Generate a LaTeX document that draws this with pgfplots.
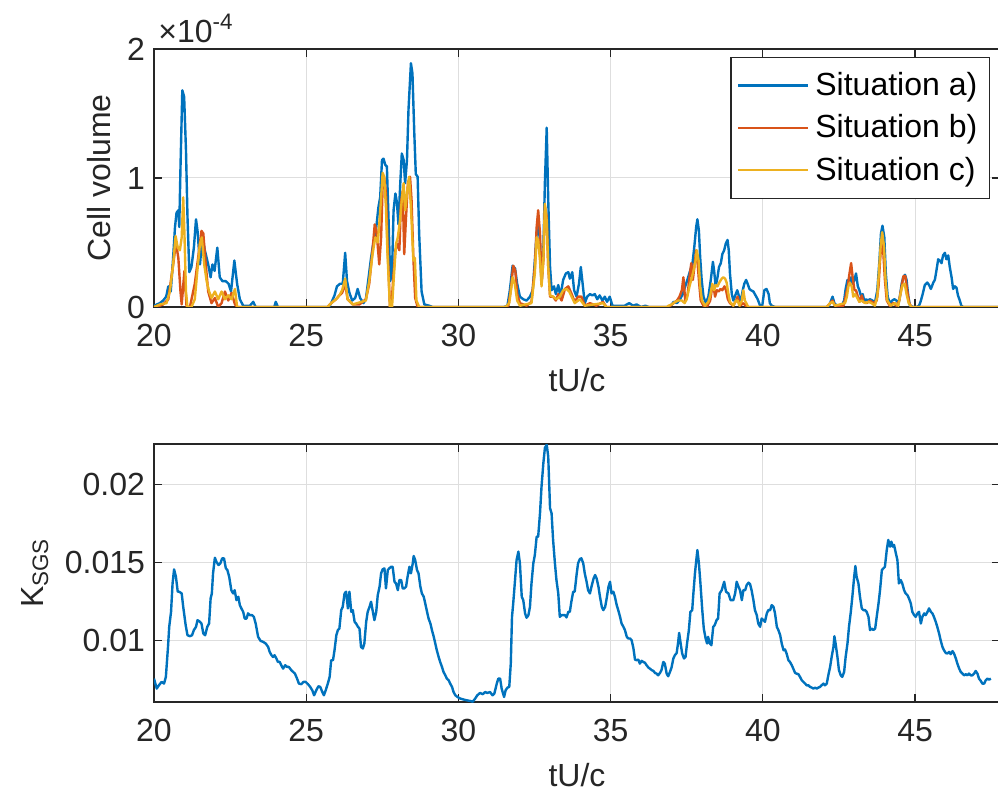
\documentclass[border=0pt]{standalone}
\usepackage{fontspec}
\setmainfont{Liberation Sans}
\usepackage{pgfplots}
\pgfplotsset{compat=1.18}

\definecolor{mblue}{rgb}{0,0.447,0.741}
\definecolor{morange}{rgb}{0.850,0.325,0.098}
\definecolor{myellow}{rgb}{0.929,0.694,0.125}
\definecolor{axgray}{gray}{0.15}

\newcommand{\chartfont}{\fontsize{16}{19}\selectfont}

\pgfplotsset{
  mstyle/.style={
    scale only axis,
    width=423pt, height=129pt,
    xmin=20, xmax=47.79,
    xtick={20,25,...,45},
    tick align=inside,
    major tick length=4pt,
    axis line style={axgray, line width=0.6pt},
    every tick/.style={axgray, line width=0.6pt},
    grid=major,
    grid style={black!13, line width=0.5pt},
    tick label style={font=\chartfont, text=axgray},
    xticklabel style={inner ysep=0pt, yshift=-8.3pt},
    yticklabel style={inner ysep=0pt, xshift=-1pt},
    label style={font=\chartfont, text=axgray},
    /pgf/number format/assume math mode=true,
    xlabel={tU/c},
    xlabel style={at={(axis description cs:0.5,-0.283)}, anchor=center},
    clip=true,
  },
  cv/.style={line width=1.2pt, line join=round},
}

\begin{document}
\begin{tikzpicture}
\path[use as bounding box] (-77pt,24.5pt) rectangle (422pt,-372pt);

% ---------- cell volume (values in units of 1e-4) ----------
\begin{axis}[mstyle, name=top, at={(0pt,0pt)}, anchor=north west,
  ymin=0, ymax=2, ytick={0,1,2}, yticklabels={0,1,2},
  ylabel={Cell volume},
  ylabel style={at={(axis description cs:-0.0646,0.5)}, anchor=center},
  legend cell align=left,
  legend style={at={(0.988,0.969)}, anchor=north east, draw=axgray,
    line width=0.6pt, fill=white, font=\chartfont, text=black,
    inner xsep=3pt, inner ysep=3.5pt, nodes={inner xsep=3pt, inner ysep=4pt},
    /tikz/every even column/.append style={column sep=3pt}},
  legend image code/.code={\draw[#1] (0pt,0pt) -- (35pt,0pt);},
]
\addplot[cv, mblue] coordinates {
(20.00,0.01) (20.10,0.02) (20.19,0.03) (20.30,0.05) (20.40,0.08) (20.47,0.16) (20.55,0.12) (20.62,0.35) (20.69,0.62) (20.74,0.73) (20.80,0.75) (20.83,0.62) (20.87,1.08) (20.93,1.68) (20.99,1.63) (21.05,1.22) (21.10,0.70) (21.16,0.27) (21.23,0.31) (21.31,0.46) (21.38,0.68) (21.43,0.59) (21.51,0.33) (21.59,0.54) (21.67,0.44) (21.78,0.33) (21.86,0.23) (21.92,0.33) (21.99,0.28) (22.08,0.46) (22.16,0.23) (22.25,0.20) (22.36,0.20) (22.45,0.18) (22.53,0.12) (22.64,0.36) (22.73,0.18) (22.82,0.06) (22.93,0.01) (23.15,0.01) (23.26,0.04) (23.34,0.00) (23.95,0.00) (24.00,0.04) (24.07,0.00)
(25.75,0.00) (25.82,0.03) (25.93,0.09) (26.01,0.16) (26.11,0.18) (26.20,0.18) (26.28,0.42) (26.34,0.20) (26.42,0.11) (26.51,0.05) (26.61,0.07) (26.69,0.14) (26.77,0.07) (26.88,0.03) (26.96,0.06) (27.05,0.23) (27.13,0.38) (27.20,0.49) (27.29,0.59) (27.37,0.77) (27.43,0.85) (27.49,1.14) (27.54,1.15) (27.60,1.10) (27.65,1.09) (27.71,0.64) (27.76,0.20) (27.82,0.28) (27.87,0.75) (27.93,0.88) (27.98,0.81) (28.03,0.64) (28.09,0.96) (28.14,1.19) (28.20,1.14) (28.25,0.96) (28.31,1.14) (28.36,1.53) (28.44,1.89) (28.49,1.81) (28.55,1.35) (28.60,1.03) (28.66,1.01) (28.71,0.57) (28.79,0.12) (28.88,0.02) (29.04,0.01) (29.15,0.00)
(31.50,0.00) (31.61,0.01) (31.69,0.13) (31.78,0.32) (31.86,0.30) (31.93,0.18) (32.02,0.08) (32.13,0.06) (32.24,0.05) (32.35,0.08) (32.44,0.13) (32.51,0.36) (32.57,0.57) (32.62,0.70) (32.68,0.49) (32.73,0.18) (32.79,0.44) (32.84,0.96) (32.90,1.39) (32.95,0.83) (33.01,0.31) (33.06,0.13) (33.14,0.16) (33.20,0.10) (33.28,0.17) (33.35,0.08) (33.44,0.21) (33.53,0.26) (33.61,0.27) (33.66,0.22) (33.74,0.27) (33.80,0.13) (33.88,0.08) (33.96,0.18) (34.02,0.31) (34.08,0.18) (34.15,0.03) (34.23,0.08) (34.32,0.10) (34.40,0.09) (34.48,0.10) (34.56,0.06) (34.64,0.09) (34.73,0.05) (34.81,0.08) (34.88,0.04) (34.97,0.08) (35.06,0.01) (35.19,0.01) (35.46,0.01) (35.61,0.03) (35.74,0.01) (35.85,0.02) (36.00,0.00)
(36.14,0.01) (36.25,0.00) (36.90,0.00) (37.01,0.02) (37.07,0.04) (37.18,0.03) (37.28,0.06) (37.37,0.10) (37.45,0.16) (37.52,0.21) (37.61,0.28) (37.69,0.34) (37.75,0.47) (37.81,0.62) (37.85,0.68) (37.90,0.59) (37.94,0.39) (37.99,0.21) (38.05,0.08) (38.13,0.03) (38.21,0.08) (38.29,0.21) (38.36,0.35) (38.40,0.28) (38.45,0.16) (38.51,0.23) (38.56,0.31) (38.62,0.34) (38.67,0.41) (38.73,0.44) (38.78,0.49) (38.84,0.52) (38.88,0.44) (38.92,0.26) (38.98,0.10) (39.03,0.05) (39.11,0.10) (39.16,0.13) (39.22,0.08) (39.28,0.05) (39.34,0.13) (39.39,0.18) (39.45,0.21) (39.50,0.18) (39.56,0.14) (39.61,0.13) (39.69,0.12) (39.76,0.09) (39.83,0.06) (39.91,0.01) (39.98,0.01) (40.05,0.13) (40.12,0.14) (40.19,0.10) (40.23,0.03) (40.29,0.01) (40.40,0.00)
(42.15,0.00) (42.21,0.03) (42.29,0.08) (42.35,0.03) (42.43,0.01) (42.59,0.01) (42.67,0.05) (42.72,0.14) (42.78,0.21) (42.84,0.18) (42.90,0.23) (42.95,0.18) (43.01,0.21) (43.06,0.26) (43.12,0.16) (43.17,0.13) (43.23,0.08) (43.28,0.10) (43.33,0.05) (43.39,0.06) (43.44,0.05) (43.52,0.06) (43.60,0.05) (43.68,0.03) (43.76,0.13) (43.83,0.36) (43.88,0.57) (43.93,0.63) (43.99,0.54) (44.04,0.26) (44.10,0.08) (44.17,0.03) (44.25,0.05) (44.32,0.06) (44.39,0.05) (44.46,0.03) (44.50,0.08) (44.56,0.18) (44.61,0.23) (44.67,0.25) (44.72,0.21) (44.78,0.08) (44.83,0.01) (44.94,0.00) (45.05,0.00) (45.13,0.01) (45.18,0.04) (45.25,0.10) (45.32,0.17) (45.40,0.19) (45.46,0.17) (45.52,0.14) (45.60,0.19) (45.65,0.21) (45.70,0.28) (45.76,0.37) (45.81,0.36) (45.87,0.34) (45.92,0.40) (45.98,0.42) (46.03,0.37) (46.09,0.40) (46.14,0.31) (46.20,0.23) (46.25,0.14) (46.31,0.16) (46.36,0.15) (46.41,0.09) (46.47,0.05) (46.52,0.01) (46.58,0.00) (47.79,0.00)
};
\addlegendentry{Situation a)}
\addplot[cv, morange] coordinates {
(20.00,0.00) (20.19,0.01) (20.30,0.02) (20.47,0.06) (20.63,0.33) (20.72,0.50) (20.80,0.38) (20.87,0.12) (20.91,0.02) (21.00,0.28) (21.07,0.00) (21.18,0.00) (21.34,0.18) (21.45,0.38) (21.56,0.59) (21.62,0.57) (21.70,0.33) (21.78,0.12) (21.89,0.03) (22.00,0.07) (22.11,0.00) (22.22,0.03) (22.33,0.12) (22.44,0.05) (22.55,0.11) (22.66,0.02) (22.73,0.00)
(25.70,0.00) (25.82,0.03) (25.98,0.06) (26.09,0.09) (26.18,0.11) (26.28,0.18) (26.36,0.06) (26.53,0.02) (26.75,0.02) (26.96,0.06) (27.07,0.18) (27.18,0.44) (27.25,0.64) (27.31,0.59) (27.40,0.33) (27.46,0.54) (27.51,0.93) (27.56,1.01) (27.62,0.88) (27.67,0.49) (27.75,0.00) (27.80,0.00) (27.86,0.23) (27.93,0.44) (27.99,0.49) (28.06,0.44) (28.11,0.80) (28.17,0.90) (28.22,0.41) (28.28,0.70) (28.34,0.96) (28.41,1.01) (28.46,0.83) (28.52,0.38) (28.58,0.07) (28.66,0.00)
(31.55,0.00) (31.64,0.01) (31.72,0.13) (31.80,0.32) (31.87,0.28) (31.93,0.10) (32.02,0.03) (32.24,0.01) (32.40,0.04) (32.51,0.31) (32.57,0.62) (32.62,0.75) (32.68,0.57) (32.73,0.18) (32.79,0.36) (32.84,0.78) (32.90,0.70) (32.95,0.31) (33.01,0.08) (33.11,0.08) (33.20,0.05) (33.28,0.10) (33.39,0.05) (33.50,0.14) (33.61,0.16) (33.72,0.10) (33.82,0.04) (33.93,0.08) (34.04,0.08) (34.15,0.01) (34.32,0.03) (34.53,0.01) (34.75,0.04) (34.86,0.00)
(36.90,0.00) (36.96,0.01) (37.07,0.03) (37.18,0.05) (37.26,0.08) (37.34,0.13) (37.39,0.23) (37.45,0.05) (37.53,0.10) (37.59,0.23) (37.65,0.34) (37.70,0.21) (37.75,0.31) (37.81,0.44) (37.85,0.36) (37.91,0.18) (37.96,0.05) (38.05,0.01) (38.16,0.00) (38.27,0.05) (38.32,0.13) (38.38,0.16) (38.43,0.08) (38.49,0.13) (38.55,0.12) (38.61,0.14) (38.67,0.13) (38.74,0.16) (38.79,0.13) (38.85,0.06) (38.92,0.03) (39.03,0.01) (39.12,0.05) (39.17,0.08) (39.25,0.01) (39.36,0.03) (39.47,0.00)
(42.10,0.00) (42.21,0.03) (42.29,0.05) (42.37,0.01) (42.65,0.01) (42.72,0.08) (42.79,0.16) (42.84,0.25) (42.90,0.34) (42.95,0.23) (43.01,0.13) (43.06,0.13) (43.12,0.08) (43.17,0.04) (43.25,0.09) (43.30,0.04) (43.41,0.03) (43.52,0.05) (43.63,0.03) (43.74,0.05) (43.80,0.16) (43.85,0.36) (43.90,0.52) (43.96,0.41) (44.01,0.21) (44.07,0.05) (44.17,0.01) (44.28,0.03) (44.39,0.01) (44.48,0.05) (44.56,0.16) (44.62,0.24) (44.68,0.24) (44.74,0.13) (44.81,0.03) (44.88,0.00) (47.79,0.00)
};
\addlegendentry{Situation b)}
\addplot[cv, myellow] coordinates {
(20.00,0.00) (20.20,0.02) (20.41,0.03) (20.52,0.12) (20.63,0.33) (20.71,0.55) (20.78,0.46) (20.85,0.44) (20.91,0.54) (20.96,0.85) (21.00,0.57) (21.05,0.12) (21.10,0.00) (21.23,0.00) (21.34,0.06) (21.42,0.27) (21.51,0.49) (21.57,0.54) (21.65,0.33) (21.73,0.20) (21.81,0.12) (21.89,0.07) (22.00,0.12) (22.11,0.06) (22.22,0.12) (22.33,0.06) (22.44,0.09) (22.55,0.06) (22.66,0.14) (22.73,0.00)
(25.70,0.00) (25.82,0.03) (25.98,0.06) (26.09,0.09) (26.18,0.13) (26.28,0.22) (26.36,0.06) (26.53,0.02) (26.96,0.05) (27.07,0.20) (27.18,0.41) (27.27,0.54) (27.35,0.50) (27.40,0.64) (27.47,0.88) (27.51,1.04) (27.56,1.01) (27.62,0.77) (27.67,0.41) (27.75,0.00) (27.82,0.00) (27.87,0.20) (27.95,0.49) (28.01,0.54) (28.08,0.67) (28.14,0.83) (28.20,0.96) (28.25,0.75) (28.32,0.90) (28.38,1.01) (28.44,0.77) (28.52,0.36) (28.57,0.38) (28.62,0.05) (28.71,0.00)
(31.55,0.00) (31.67,0.03) (31.78,0.23) (31.85,0.18) (31.93,0.05) (32.02,0.01) (32.40,0.03) (32.51,0.26) (32.57,0.54) (32.62,0.52) (32.68,0.36) (32.73,0.16) (32.79,0.36) (32.84,0.80) (32.90,0.67) (32.95,0.31) (33.01,0.09) (33.11,0.08) (33.22,0.06) (33.33,0.08) (33.44,0.13) (33.55,0.14) (33.64,0.12) (33.72,0.08) (33.82,0.03) (33.99,0.06) (34.15,0.01) (34.75,0.03) (34.86,0.00)
(36.85,0.00) (36.90,0.01) (37.01,0.02) (37.12,0.04) (37.23,0.05) (37.34,0.05) (37.43,0.03) (37.50,0.06) (37.59,0.16) (37.67,0.23) (37.72,0.28) (37.78,0.34) (37.83,0.44) (37.89,0.36) (37.94,0.16) (38.00,0.05) (38.10,0.01) (38.21,0.04) (38.27,0.09) (38.34,0.18) (38.40,0.13) (38.45,0.17) (38.51,0.16) (38.57,0.19) (38.65,0.22) (38.70,0.23) (38.76,0.22) (38.81,0.19) (38.87,0.10) (38.92,0.04) (39.03,0.01) (39.12,0.05) (39.17,0.05) (39.23,0.01) (39.31,0.05) (39.36,0.13) (39.41,0.05) (39.52,0.00)
(42.10,0.00) (42.21,0.03) (42.29,0.04) (42.37,0.01) (42.70,0.03) (42.76,0.08) (42.81,0.16) (42.86,0.19) (42.92,0.16) (42.97,0.08) (43.03,0.10) (43.08,0.08) (43.17,0.04) (43.25,0.05) (43.36,0.03) (43.47,0.04) (43.57,0.03) (43.68,0.01) (43.76,0.08) (43.81,0.26) (43.87,0.47) (43.92,0.58) (43.98,0.47) (44.03,0.21) (44.09,0.05) (44.20,0.01) (44.34,0.03) (44.45,0.01) (44.52,0.10) (44.59,0.17) (44.66,0.18) (44.72,0.10) (44.79,0.03) (44.88,0.00) (47.79,0.00)
};
\addlegendentry{Situation c)}
\end{axis}
\node[anchor=base west, inner sep=0pt, font=\chartfont, text=axgray]
  at ([xshift=2pt,yshift=3.5pt]top.north west) {×10\textsuperscript{-4}};

% ---------- subgrid-scale quantity ----------
\begin{axis}[mstyle, name=bottom, at={(0pt,-197.5pt)}, anchor=north west,
  ymin=0.00608, ymax=0.02262,
  ytick={0.01,0.015,0.02}, yticklabels={0.01,0.015,0.02},
  scaled y ticks=false,
  ylabel={K\textsubscript{SGS}},
  ylabel style={at={(axis description cs:-0.141,0.5)}, anchor=center},
]
\addplot[cv, mblue] coordinates {
(20.00,0.00758) (20.09,0.00694) (20.16,0.00715) (20.25,0.00737) (20.33,0.00726) (20.39,0.00769) (20.46,0.00961) (20.50,0.01090) (20.56,0.01186) (20.61,0.01368) (20.66,0.01458) (20.72,0.01411) (20.78,0.01315) (20.83,0.01315) (20.91,0.01304) (20.96,0.01218) (21.04,0.01101) (21.10,0.01036) (21.18,0.01030) (21.25,0.01036) (21.31,0.01069) (21.38,0.01090) (21.43,0.01133) (21.51,0.01122) (21.56,0.01111) (21.62,0.01047) (21.68,0.01036) (21.75,0.01090) (21.81,0.01111) (21.86,0.01272) (21.90,0.01304) (21.94,0.01433) (22.00,0.01533) (22.05,0.01507) (22.12,0.01486) (22.18,0.01497) (22.24,0.01529) (22.30,0.01529) (22.36,0.01465) (22.41,0.01454) (22.47,0.01411) (22.54,0.01325) (22.60,0.01304) (22.65,0.01325) (22.71,0.01261) (22.77,0.01283) (22.82,0.01229) (22.87,0.01208) (22.93,0.01186) (22.98,0.01143) (23.04,0.01143) (23.09,0.01176) (23.15,0.01165) (23.22,0.01165) (23.28,0.01154) (23.34,0.01111) (23.42,0.01026) (23.50,0.01000) (23.58,0.00994) (23.67,0.00983) (23.75,0.00961) (23.80,0.00929) (23.86,0.00908) (23.91,0.00897) (23.96,0.00908) (24.02,0.00887) (24.07,0.00865) (24.13,0.00865) (24.18,0.00844) (24.24,0.00822) (24.31,0.00844) (24.37,0.00833) (24.43,0.00833) (24.51,0.00812) (24.57,0.00801) (24.63,0.00790) (24.70,0.00758) (24.76,0.00726) (24.84,0.00722) (24.91,0.00737) (24.98,0.00737) (25.06,0.00722) (25.13,0.00705) (25.20,0.00683) (25.26,0.00651) (25.33,0.00683) (25.40,0.00709) (25.46,0.00705) (25.53,0.00672) (25.58,0.00651) (25.64,0.00683) (25.71,0.00726) (25.77,0.00769) (25.82,0.00876) (25.88,0.00876) (25.93,0.00940) (25.99,0.01036) (26.04,0.01069) (26.09,0.01079) (26.15,0.01197) (26.20,0.01218) (26.26,0.01304) (26.31,0.01315) (26.37,0.01208) (26.42,0.01315) (26.48,0.01186) (26.53,0.01197) (26.59,0.01122) (26.64,0.01111) (26.70,0.01090) (26.75,0.01079) (26.80,0.00961) (26.86,0.00951) (26.91,0.00983) (26.97,0.01122) (27.02,0.01186) (27.08,0.01218) (27.13,0.01251) (27.19,0.01186) (27.24,0.01133) (27.30,0.01186) (27.35,0.01293) (27.41,0.01347) (27.46,0.01433) (27.51,0.01458) (27.57,0.01465) (27.62,0.01336) (27.68,0.01454) (27.73,0.01465) (27.79,0.01475) (27.84,0.01475) (27.90,0.01379) (27.95,0.01368) (28.01,0.01325) (28.06,0.01390) (28.12,0.01390) (28.17,0.01336) (28.22,0.01336) (28.28,0.01347) (28.33,0.01411) (28.39,0.01475) (28.44,0.01433) (28.50,0.01497) (28.53,0.01544) (28.58,0.01518) (28.64,0.01454) (28.69,0.01433) (28.75,0.01347) (28.80,0.01304) (28.86,0.01283) (28.91,0.01240) (28.97,0.01186) (29.02,0.01143) (29.08,0.01111) (29.13,0.01069) (29.19,0.01026) (29.24,0.00983) (29.29,0.00940) (29.35,0.00897) (29.40,0.00865) (29.46,0.00833) (29.51,0.00801) (29.57,0.00779) (29.62,0.00758) (29.68,0.00747) (29.73,0.00726) (29.79,0.00705) (29.84,0.00672) (29.90,0.00651) (29.97,0.00640)
(30.06,0.00630) (30.17,0.00624) (30.27,0.00619) (30.38,0.00615) (30.47,0.00610) (30.55,0.00630) (30.62,0.00651) (30.71,0.00666) (30.80,0.00658) (30.88,0.00672) (30.95,0.00666) (31.04,0.00672) (31.12,0.00651) (31.18,0.00662) (31.26,0.00726) (31.31,0.00758) (31.37,0.00758) (31.42,0.00694) (31.50,0.00640) (31.55,0.00683) (31.61,0.00700) (31.67,0.00705) (31.72,0.00854) (31.76,0.01154) (31.80,0.01240) (31.86,0.01390) (31.91,0.01518) (31.97,0.01572) (32.02,0.01497) (32.08,0.01283) (32.13,0.01261) (32.19,0.01176) (32.24,0.01148) (32.30,0.01165) (32.35,0.01218) (32.40,0.01368) (32.46,0.01497) (32.51,0.01550) (32.57,0.01668) (32.62,0.01668) (32.68,0.01818) (32.73,0.01989) (32.79,0.02139) (32.84,0.02236) (32.90,0.02258) (32.95,0.02182) (33.01,0.01850) (33.06,0.01818) (33.11,0.01647) (33.17,0.01497) (33.22,0.01390) (33.28,0.01304) (33.33,0.01154) (33.39,0.01165) (33.44,0.01165) (33.50,0.01165) (33.55,0.01150) (33.61,0.01186) (33.66,0.01186) (33.71,0.01251) (33.77,0.01315) (33.82,0.01315) (33.88,0.01422) (33.93,0.01497) (33.99,0.01525) (34.04,0.01529) (34.10,0.01497) (34.15,0.01433) (34.21,0.01379) (34.26,0.01325) (34.32,0.01304) (34.37,0.01347) (34.44,0.01400) (34.49,0.01422) (34.54,0.01400) (34.60,0.01347) (34.65,0.01283) (34.71,0.01218) (34.76,0.01197) (34.82,0.01218) (34.87,0.01272) (34.93,0.01347) (34.98,0.01379) (35.03,0.01304) (35.09,0.01315) (35.14,0.01283) (35.20,0.01229) (35.25,0.01197) (35.31,0.01154) (35.36,0.01111) (35.42,0.01090) (35.47,0.01069) (35.53,0.01026) (35.58,0.01015) (35.64,0.01015) (35.69,0.01004) (35.75,0.00951) (35.80,0.00880) (35.85,0.00876) (35.91,0.00880) (35.96,0.00854) (36.02,0.00872) (36.07,0.00865) (36.13,0.00859) (36.18,0.00844) (36.24,0.00829) (36.29,0.00822) (36.35,0.00812) (36.40,0.00808) (36.46,0.00794) (36.51,0.00790) (36.56,0.00779) (36.62,0.00794) (36.67,0.00812) (36.73,0.00865) (36.78,0.00854) (36.84,0.00790) (36.89,0.00773) (36.95,0.00801) (37.00,0.00829) (37.06,0.00887) (37.11,0.00908) (37.17,0.00922) (37.22,0.00994) (37.25,0.01051) (37.30,0.00983) (37.35,0.00919) (37.41,0.00887) (37.46,0.00897) (37.51,0.00983) (37.57,0.01069) (37.62,0.01186) (37.68,0.01197) (37.71,0.01283) (37.77,0.01433) (37.82,0.01529) (37.85,0.01582) (37.90,0.01497) (37.95,0.01368) (38.01,0.01197) (38.06,0.01079) (38.12,0.01015) (38.17,0.00983) (38.20,0.01026) (38.26,0.00983) (38.31,0.00972) (38.37,0.01090) (38.42,0.01101) (38.48,0.01133) (38.53,0.01143) (38.58,0.01304)
(38.65,0.01325) (38.73,0.01379) (38.79,0.01315) (38.87,0.01304) (38.94,0.01261) (39.03,0.01261) (39.09,0.01304) (39.14,0.01379) (39.20,0.01347) (39.25,0.01325) (39.31,0.01261) (39.36,0.01325) (39.42,0.01325) (39.47,0.01358) (39.53,0.01373) (39.58,0.01364) (39.63,0.01325) (39.69,0.01261) (39.74,0.01197) (39.80,0.01165) (39.85,0.01111) (39.91,0.01090) (39.96,0.01143) (40.02,0.01133) (40.07,0.01122) (40.13,0.01176) (40.18,0.01197) (40.24,0.01197) (40.29,0.01229) (40.35,0.01218) (40.40,0.01176) (40.46,0.01090) (40.51,0.01069) (40.57,0.01036) (40.62,0.00983) (40.68,0.00940) (40.73,0.00944) (40.78,0.00919) (40.84,0.00876) (40.89,0.00865) (40.95,0.00844) (41.00,0.00822) (41.06,0.00794) (41.11,0.00790) (41.17,0.00786) (41.22,0.00769) (41.28,0.00747) (41.33,0.00737) (41.39,0.00726) (41.44,0.00715) (41.50,0.00715) (41.55,0.00705) (41.61,0.00700) (41.66,0.00694) (41.72,0.00700) (41.77,0.00694) (41.82,0.00700) (41.88,0.00705) (41.93,0.00715) (41.99,0.00726) (42.04,0.00715) (42.10,0.00726) (42.15,0.00779) (42.21,0.00833) (42.26,0.00897) (42.32,0.00961) (42.35,0.01030) (42.39,0.00983) (42.45,0.00897) (42.50,0.00812) (42.56,0.00779) (42.61,0.00769) (42.67,0.00801) (42.72,0.00897) (42.78,0.00983) (42.83,0.01090) (42.89,0.01186) (42.94,0.01283) (43.00,0.01411) (43.04,0.01480) (43.08,0.01411) (43.14,0.01368) (43.19,0.01283) (43.25,0.01208) (43.30,0.01197) (43.36,0.01197) (43.41,0.01186) (43.47,0.01154) (43.52,0.01069) (43.58,0.01079) (43.63,0.01069) (43.69,0.01079) (43.74,0.01154) (43.80,0.01240) (43.85,0.01325) (43.91,0.01454) (43.96,0.01465) (44.01,0.01475) (44.07,0.01582) (44.12,0.01647) (44.18,0.01604) (44.22,0.01636) (44.27,0.01604) (44.31,0.01615) (44.37,0.01561) (44.42,0.01518) (44.47,0.01368) (44.53,0.01390) (44.58,0.01368) (44.64,0.01325) (44.69,0.01304) (44.75,0.01293) (44.80,0.01272) (44.86,0.01240) (44.91,0.01186) (44.97,0.01165) (45.02,0.01154) (45.08,0.01176) (45.13,0.01186) (45.19,0.01111) (45.24,0.01154) (45.30,0.01176) (45.35,0.01165) (45.41,0.01186) (45.46,0.01208) (45.52,0.01186) (45.57,0.01176) (45.62,0.01154) (45.68,0.01122) (45.73,0.01090) (45.79,0.01047) (45.84,0.01004) (45.90,0.00961) (45.95,0.00940) (46.01,0.00922) (46.06,0.00919) (46.12,0.00929) (46.17,0.00915) (46.23,0.00934) (46.28,0.00919) (46.34,0.00887) (46.39,0.00854) (46.45,0.00822) (46.50,0.00801) (46.56,0.00790) (46.61,0.00779) (46.67,0.00786) (46.72,0.00779) (46.77,0.00790) (46.83,0.00779) (46.88,0.00779) (46.94,0.00790) (46.99,0.00807) (47.05,0.00790) (47.10,0.00758) (47.16,0.00743) (47.21,0.00726) (47.27,0.00726) (47.32,0.00747) (47.38,0.00758) (47.43,0.00751) (47.49,0.00758)
};
\end{axis}
\end{tikzpicture}
\end{document}
